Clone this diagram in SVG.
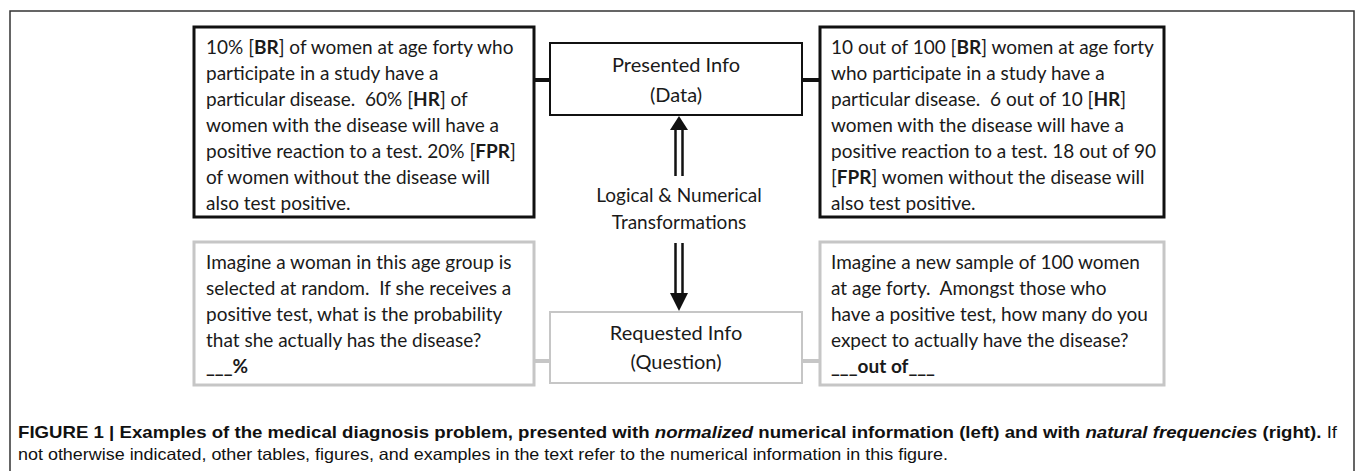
<svg xmlns="http://www.w3.org/2000/svg" width="1359" height="471" viewBox="0 0 1359 471">
<style>
.t{font-family:Lato,"Open Sans","Liberation Sans",sans-serif;font-size:19px;fill:#1a1a1a;white-space:pre}
.l{font-size:20px}
.c{text-anchor:middle}
.b{font-weight:bold}
.blk{fill:#fff;stroke:#111;stroke-width:3}
.blk2{fill:#fff;stroke:#111;stroke-width:2}
.gry{fill:#fff;stroke:#c6c6c6;stroke-width:3}
.gry2{fill:#fff;stroke:#c6c6c6;stroke-width:2}
.cap{font-family:"Liberation Sans",Arial,sans-serif;font-size:16.5px;fill:#111;white-space:pre}
</style>
<rect x="10" y="11" width="1344" height="470" fill="none" stroke="#333" stroke-width="1.5"/>
<g id="connectors">
<line x1="534" y1="80" x2="549" y2="80" stroke="#111" stroke-width="4"/>
<line x1="802" y1="80" x2="820" y2="80" stroke="#111" stroke-width="4"/>
<line x1="534" y1="361" x2="549" y2="361" stroke="#c6c6c6" stroke-width="4"/>
<line x1="802" y1="361" x2="820" y2="361" stroke="#c6c6c6" stroke-width="4"/>
<line x1="675.5" y1="129" x2="675.5" y2="176" stroke="#111" stroke-width="2.5"/>
<line x1="682.5" y1="129" x2="682.5" y2="176" stroke="#111" stroke-width="2.5"/>
<polygon points="679,116 670,130 688,130" fill="#111"/>
<line x1="675.5" y1="243" x2="675.5" y2="294" stroke="#111" stroke-width="2.5"/>
<line x1="682.5" y1="243" x2="682.5" y2="294" stroke="#111" stroke-width="2.5"/>
<polygon points="679,311 670,293 688,293" fill="#111"/>
</g>
<g id="normalized-data">
<rect class="blk" x="194" y="27" width="340" height="190"/>
<text class="t" x="206" y="54">10% [<tspan class="b">BR</tspan>] of women at age forty who</text>
<text class="t" x="206" y="80">participate in a study have a</text>
<text class="t" x="206" y="106">particular disease.  60% [<tspan class="b">HR</tspan>] of</text>
<text class="t" x="206" y="132">women with the disease will have a</text>
<text class="t" x="206" y="158">positive reaction to a test. 20% [<tspan class="b">FPR</tspan>]</text>
<text class="t" x="206" y="184">of women without the disease will</text>
<text class="t" x="206" y="210">also test positive.</text>
</g>
<g id="presented-info">
<rect class="blk2" x="550" y="43" width="252" height="72"/>
<text class="t l c" x="676" y="72">Presented Info</text>
<text class="t l c" x="676" y="102">(Data)</text>
</g>
<g id="frequency-data">
<rect class="blk" x="820" y="27" width="344" height="190"/>
<text class="t" x="831" y="54">10 out of 100 [<tspan class="b">BR</tspan>] women at age forty</text>
<text class="t" x="831" y="80">who participate in a study have a</text>
<text class="t" x="831" y="106">particular disease.  6 out of 10 [<tspan class="b">HR</tspan>]</text>
<text class="t" x="831" y="132">women with the disease will have a</text>
<text class="t" x="831" y="158">positive reaction to a test. 18 out of 90</text>
<text class="t" x="831" y="184">[<tspan class="b">FPR</tspan>] women without the disease will</text>
<text class="t" x="831" y="210">also test positive.</text>
</g>
<g id="transform-label">
<text class="t c" x="679" y="202">Logical &amp; Numerical</text>
<text class="t c" x="679" y="229">Transformations</text>
</g>
<g id="normalized-question">
<rect class="gry" x="194" y="242" width="340" height="143"/>
<text class="t" x="206" y="269">Imagine a woman in this age group is</text>
<text class="t" x="206" y="295">selected at random.  If she receives a</text>
<text class="t" x="206" y="321">positive test, what is the probability</text>
<text class="t" x="206" y="347">that she actually has the disease?</text>
<text class="t b" x="206" y="373">___%</text>
</g>
<g id="requested-info">
<rect class="gry2" x="550" y="312" width="252" height="71"/>
<text class="t l c" x="676" y="340">Requested Info</text>
<text class="t l c" x="676" y="369">(Question)</text>
</g>
<g id="frequency-question">
<rect class="gry" x="820" y="242" width="344" height="143"/>
<text class="t" x="831" y="269">Imagine a new sample of 100 women</text>
<text class="t" x="831" y="295">at age forty.  Amongst those who</text>
<text class="t" x="831" y="321">have a positive test, how many do you</text>
<text class="t" x="831" y="347">expect to actually have the disease?</text>
<text class="t b" x="831" y="373">___out of___</text>
</g>
<g id="caption">
<text class="cap" x="18" y="438" textLength="1319" lengthAdjust="spacingAndGlyphs"><tspan class="b">FIGURE 1 | Examples of the medical diagnosis problem, presented with <tspan font-style="italic">normalized</tspan> numerical information (left) and with <tspan font-style="italic">natural frequencies</tspan> (right).</tspan> If</text>
<text class="cap" x="18" y="460" textLength="930" lengthAdjust="spacingAndGlyphs">not otherwise indicated, other tables, figures, and examples in the text refer to the numerical information in this figure.</text>
</g>
</svg>
